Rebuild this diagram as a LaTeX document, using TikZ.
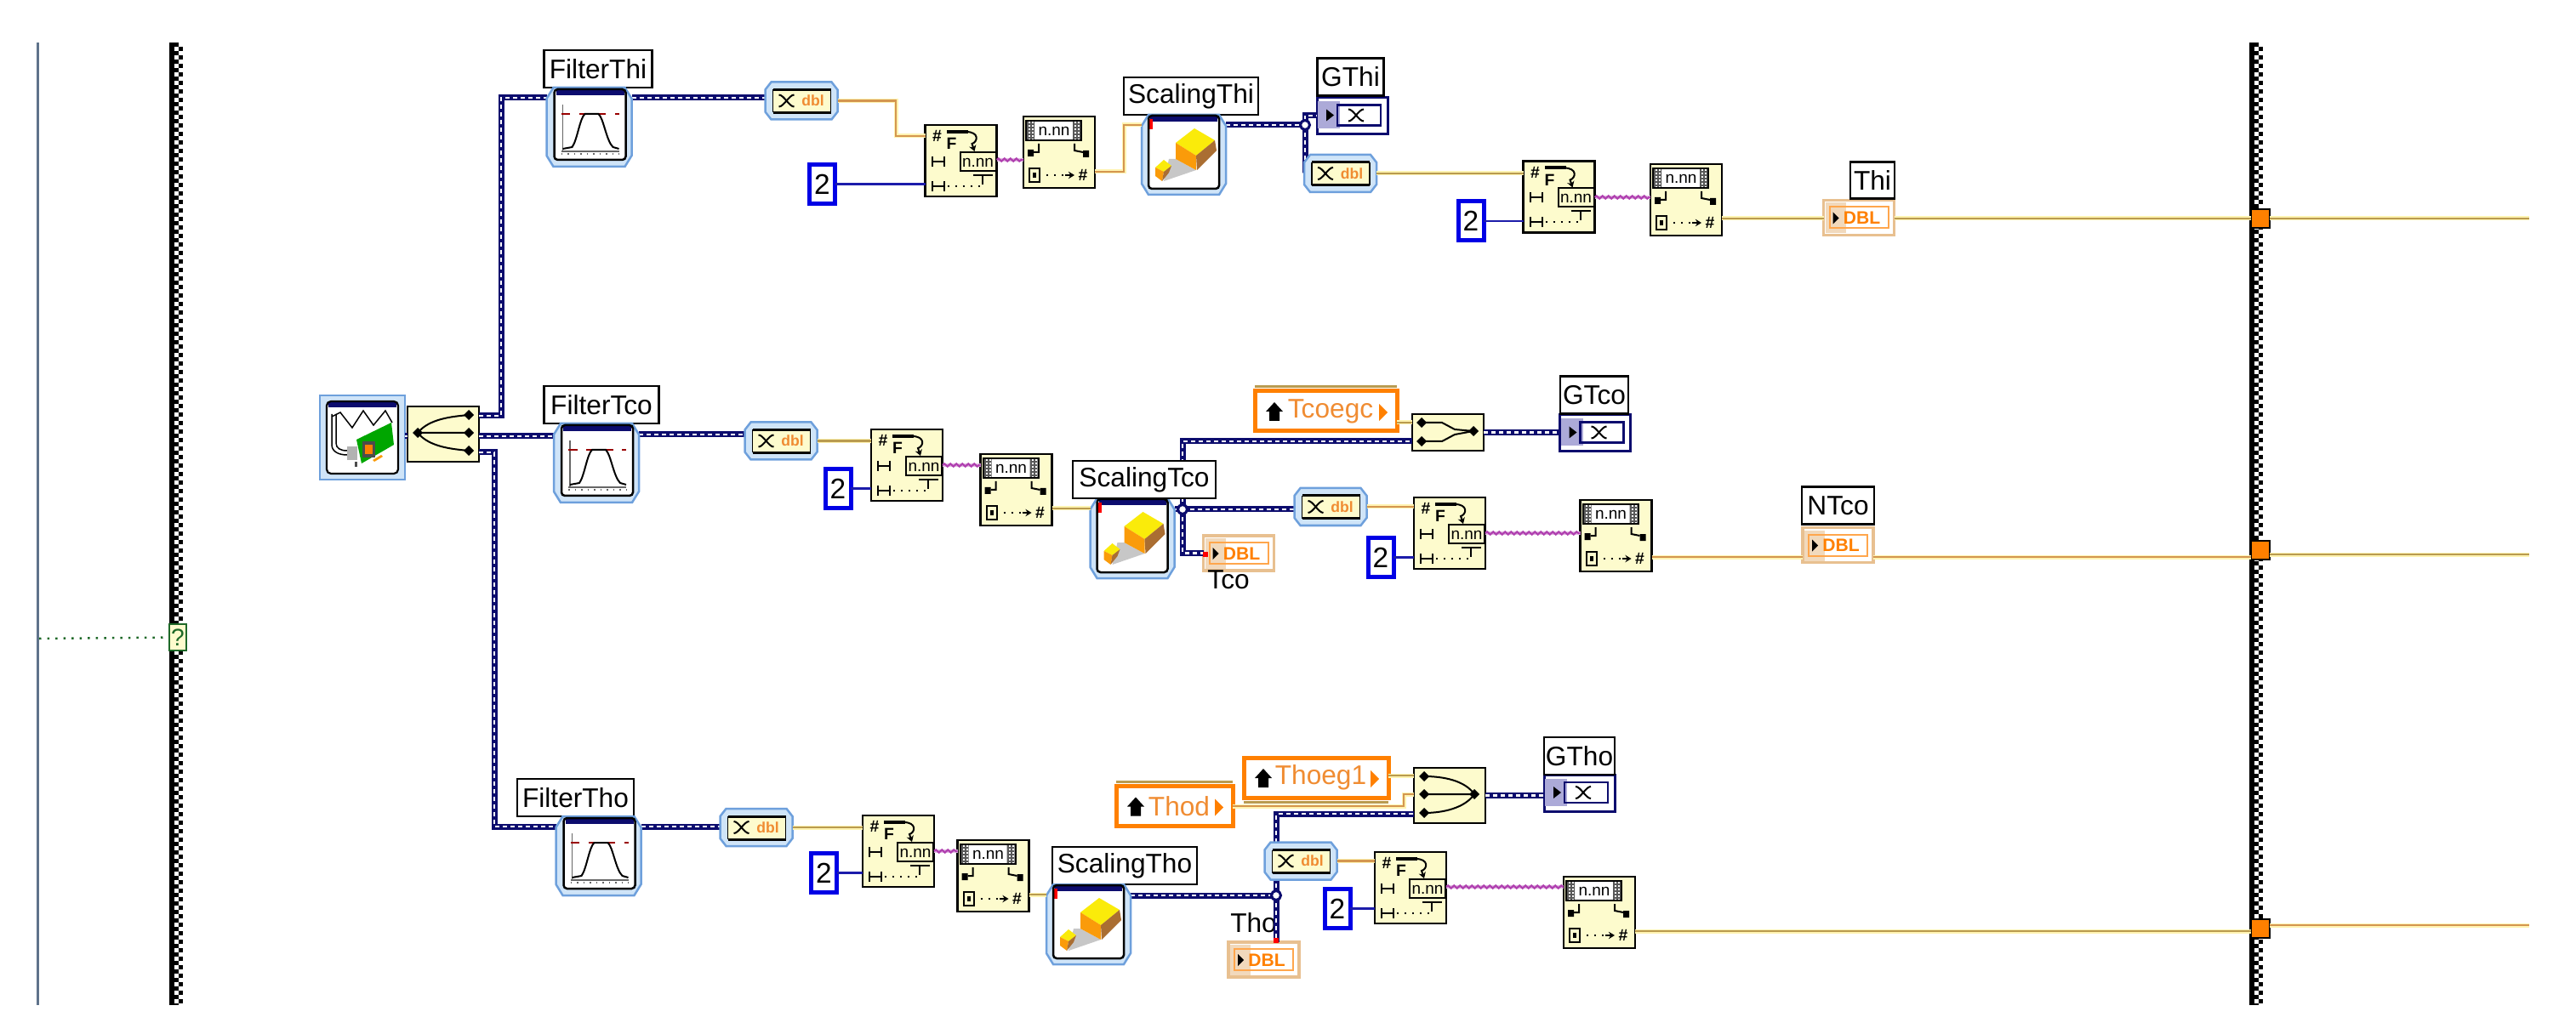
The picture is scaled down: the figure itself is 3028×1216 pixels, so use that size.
\documentclass[tikz,border=0pt]{standalone}
\usepackage{fontspec}
\setmainfont{Liberation Sans}
\usepackage{xcolor}
\usepackage{tikz}
\usetikzlibrary{arrows.meta,positioning,decorations.pathmorphing}
\definecolor{navy}{RGB}{12,12,110}
\definecolor{dblwire}{RGB}{185,155,80}
\definecolor{dblglow}{RGB}{255,243,176}
\definecolor{dblalt}{RGB}{212,150,80}
\definecolor{intwire}{RGB}{28,28,170}
\definecolor{strwire}{RGB}{176,64,176}
\definecolor{boolwire}{RGB}{30,105,40}
\definecolor{cream}{RGB}{253,251,205}
\definecolor{ice}{RGB}{207,228,248}
\definecolor{iceline}{RGB}{110,160,220}
\definecolor{lvorange}{RGB}{255,128,0}
\definecolor{lvtext}{RGB}{240,140,50}
\definecolor{lvtan}{RGB}{232,192,144}
\definecolor{purplepatch}{RGB}{172,170,216}
\definecolor{cubeY}{RGB}{250,235,10}
\definecolor{cubeO}{RGB}{250,155,10}
\definecolor{cubeB}{RGB}{170,110,50}
\newcommand{\pxl}{0.01cm}
\newcommand{\vdot}[2]{\fill[black] (#1-6,#2) -- (#1,#2-6) -- (#1+6,#2) -- (#1,#2+6) -- cycle;}
% glyphs drawn over the blocks, local pixels from the top left corner
\newcommand{\octframe}[4]{
  \draw[draw=iceline, fill=ice, line width=2.5*\pxl] (#3,0) -- (#1-#3,0) -- (#1,#4) -- (#1,#2-#4) -- (#1-#3,#2) -- (#3,#2) -- (0,#2-#4) -- (0,#4) -- cycle;}
\newcommand{\crossglyph}[2]{
  \draw[black,line width=2*\pxl] (#1-9,#2-7) .. controls (#1-3,#2-7) and (#1+3,#2+7) .. (#1+9,#2+7);
  \draw[black,line width=2*\pxl] (#1-9,#2+7) .. controls (#1-3,#2+7) and (#1+3,#2-7) .. (#1+9,#2-7);}
\newcommand{\loopglyph}{
  \node[glyph] at (14,13) {\#};
  \fill[black] (25,6) rectangle (50,10);
  \node[glyph] at (31,22) {F};
  \draw[black,line width=2*\pxl,-{Stealth[length=2pt,width=2.4pt]}] (48,8) .. controls (64,8) and (62,20) .. (55,22) -- (58,31);
  \draw[black,line width=2*\pxl,fill=cream] (41,32) rectangle (83,54);
  \node[nnglyph] at (62,44) {n.nn};
  \draw[black,line width=2*\pxl] (8,37) -- (8,49) (22,37) -- (22,49) (8,43) -- (22,43);
  \draw[black,line width=2*\pxl] (8,66) -- (8,78) (22,66) -- (22,78) (8,72) -- (22,72);
  \draw[black,line width=2*\pxl,dotted] (26,72) -- (64,72);
  \draw[black,line width=2*\pxl] (56,59) -- (79,59) (67,59) -- (67,70);}
\newcommand{\formatglyph}{
  \draw[black,line width=2*\pxl,fill=white] (3,5) rectangle (68,28);
  \fill[black!65] (4,6) rectangle (13,27) (58,6) rectangle (67,27);
  \draw[white,line width=2*\pxl,dash pattern=on 2*\pxl off 2*\pxl] (7,6) -- (7,27) (11,6) -- (11,27) (61,6) -- (61,27) (65,6) -- (65,27);
  \node[nnglyph] at (36,17) {n.nn};
  \fill[black] (5,39) rectangle (12,47) (70,40) rectangle (77,48);
  \draw[black,line width=2*\pxl] (12,42) -- (18,42) -- (18,32) (60,32) -- (60,40) -- (70,42);
  \draw[black,line width=2*\pxl] (7,61) rectangle (19,77);
  \fill[black] (11,66) rectangle (15,72);
  \draw[black,line width=2*\pxl,dotted] (27,69) -- (50,69);
  \draw[black,line width=2*\pxl,-{Stealth[length=2pt,width=2.4pt]}] (49,69) -- (60,69);
  \node[glyph] at (70,69) {\#};}
\newcommand{\filterglyph}{
  \octframe{100}{93}{8}{13}
  \fill[white,rounded corners=4*\pxl] (9,2) rectangle (93,85);
  \fill[navy] (11,2) rectangle (91,9);
  \draw[black,line width=2.5*\pxl,rounded corners=4*\pxl] (9,2) rectangle (93,85);
  \draw[black!60,line width=1.5*\pxl] (19,20) -- (19,75) (17,75) -- (85,75);
  \draw[black!60,line width=1.5*\pxl,dash pattern=on 1.5*\pxl off 6*\pxl] (17,78) -- (85,78);
  \draw[red!60!black,line width=2*\pxl,dashed] (17,31) -- (85,31);
  \draw[black,line width=2*\pxl] (19,72) -- (30,70) .. controls (36,62) and (39,36) .. (45,31) -- (61,31) .. controls (67,36) and (70,62) .. (78,70) -- (85,72);}
\newcommand{\scaleglyph}{
  \octframe{99}{94}{8}{13}
  \fill[white,rounded corners=4*\pxl] (8,1) rectangle (91,87);
  \fill[navy] (10,1) rectangle (89,8);
  \fill[red] (8,5) rectangle (13,17);
  \draw[black,line width=2.5*\pxl,rounded corners=4*\pxl] (8,1) rectangle (91,87);
  \fill[black!22] (32,52) -- (40,52) -- (64,65) -- (26,78) -- cycle;
  \fill[cubeY] (62,16) -- (86,30) -- (64,48) -- (40,33) -- cycle;
  \fill[cubeO] (40,33) -- (64,48) -- (64,65) -- (40,52) -- cycle;
  \fill[cubeB] (64,48) -- (86,30) -- (88,42) -- (65,65) -- cycle;
  \fill[cubeY] (26,53) -- (35,60) -- (26,67) -- (16,62) -- cycle;
  \fill[cubeO] (16,62) -- (26,67) -- (24,78) -- (16,72) -- cycle;
  \fill[cubeB] (26,67) -- (35,60) -- (32,68) -- (24,78) -- cycle;}
\newcommand{\daqglyph}{
  \fill[white,rounded corners=5*\pxl] (8,7) rectangle (92,92);
  \fill[navy] (10,7) rectangle (90,14);
  \draw[black,line width=2.2*\pxl,rounded corners=5*\pxl] (8,7) rectangle (92,92);
  \draw[black,line width=1.5*\pxl] (14,25) -- (24,20) -- (38,38) -- (51,18) -- (63,35) -- (77,18) -- (85,32);
  \draw[black,line width=1.5*\pxl] (14,22) -- (14,58) .. controls (14,66) and (22,70) .. (32,70);
  \draw[black,line width=1.5*\pxl] (19,22) -- (19,56) .. controls (19,62) and (24,65) .. (32,65);
  \fill[black!30] (32,60) rectangle (44,76);
  \fill[black!70] (41,78) rectangle (44,84);
  \fill[green!65!black] (43,52) -- (84,32) -- (87,58) -- (49,80) -- cycle;
  \fill[black!70] (50,54) rectangle (65,73);
  \fill[orange] (53,58) rectangle (62,69);
  \fill[cubeO] (62,76) -- (72,70) -- (74,72) -- (64,78) -- cycle;}
\newcommand{\splitglyph}{
  \vdot{12}{31}\vdot{72}{10}\vdot{72}{31}\vdot{72}{52}
  \draw[black,line width=2*\pxl] (12,31) .. controls (25,15) and (50,12) .. (72,10) (12,31) -- (72,31) (12,31) .. controls (25,47) and (50,50) .. (72,52);}
\newcommand{\mergetwo}{
  \vdot{11}{10}\vdot{11}{32}\vdot{72}{20}
  \draw[black,line width=2*\pxl] (11,10) -- (35,10) -- (50,18) -- (72,20) (11,32) -- (35,32) -- (50,24) -- (72,20);}
\newcommand{\mergethree}{
  \vdot{12}{10}\vdot{12}{31}\vdot{12}{53}\vdot{71}{31}
  \draw[black,line width=2*\pxl] (12,10) .. controls (35,10) and (60,15) .. (71,31) (12,31) -- (71,31) (12,53) .. controls (35,53) and (60,47) .. (71,31);}
\newcommand{\convglyph}{
  \octframe{85}{44}{7}{9}
  \fill[cream] (9,9) rectangle (77,36);
  \draw[black,line width=3*\pxl] (9,9) -- (77,9) (9,36) -- (77,36);
  \draw[black,line width=1.5*\pxl] (9,9) -- (9,36) (77,9) -- (77,36);
  \crossglyph{25}{22}
  \node[glyph,font=\fontsize{5}{5}\selectfont\bfseries,text=lvtext] at (56,22) {dbl};}
\newcommand{\graphglyph}{
  \fill[purplepatch] (1,5) rectangle (27,37);
  \draw[navy,line width=2.5*\pxl] (24,9) rectangle (75,33);
  \fill[black] (11,14) -- (20,21) -- (11,28) -- cycle;
  \crossglyph{46}{21}}
\newcommand{\dblglyph}{
  \fill[lvtan!60] (2,3) rectangle (26,39);
  \draw[lvorange!70,line width=2*\pxl] (7,8) rectangle (76,33);
  \fill[black] (11,14) -- (18,21) -- (11,28) -- cycle;
  \node[glyph,font=\fontsize{6}{6}\selectfont\bfseries,text=lvorange] at (45,21) {DBL};}
\newcommand{\houseglyph}{
  \fill[black] (13,24) -- (23,13) -- (33,24) -- (29,24) -- (29,35) -- (17,35) -- (17,24) -- cycle;}

\begin{document}
\begin{tikzpicture}[x=0.01cm, y=-0.01cm,
  every node/.style={inner sep=0pt, outer sep=0pt},
  glyph/.style={font=\fontsize{5.5}{6}\selectfont\bfseries, text=black, anchor=center},
  nnglyph/.style={font=\fontsize{5.4}{6}\selectfont, text=black, anchor=center},
  tag/.style={draw=black, fill=white, line width=2.5*\pxl, minimum height=44*\pxl, font=\fontsize{9}{10}\selectfont},
  plaintag/.style={font=\fontsize{9}{10}\selectfont},
  filterbox/.style={minimum width=100*\pxl, minimum height=93*\pxl},
  scalebox/.style={minimum width=99*\pxl, minimum height=94*\pxl},
  convbox/.style={minimum width=85*\pxl, minimum height=44*\pxl},
  loopbox/.style={draw=black, fill=cream, line width=2.5*\pxl, minimum size=84*\pxl},
  splitbox/.style={draw=black, fill=cream, line width=2.5*\pxl, minimum width=84*\pxl, minimum height=65*\pxl},
  mergetwobox/.style={draw=black, fill=cream, line width=2.5*\pxl, minimum width=84*\pxl, minimum height=43*\pxl},
  daqbox/.style={draw=iceline, fill=ice, line width=2.5*\pxl, minimum width=100*\pxl, minimum height=99*\pxl},
  constbox/.style={draw=blue!90!black, fill=white, line width=5*\pxl, minimum width=30*\pxl, minimum height=46*\pxl, font=\fontsize{9.5}{10}\selectfont},
  graphterm/.style={draw=navy, fill=white, line width=3*\pxl, minimum width=83*\pxl, minimum height=43*\pxl},
  dblterm/.style={draw=lvtan, fill=white, line width=3.5*\pxl, minimum width=83*\pxl, minimum height=41*\pxl},
  localvar/.style={draw=lvorange, fill=white, line width=5*\pxl, minimum height=47*\pxl, text=lvtext, font=\fontsize{9}{10}\selectfont},
  tunnel/.style={draw=black, fill=lvorange, line width=2.5*\pxl, minimum size=22*\pxl},
  selterm/.style={draw=boolwire, fill=cream, line width=2.5*\pxl, minimum width=20*\pxl, minimum height=31*\pxl, text=boolwire, font=\fontsize{8}{8}\selectfont},
  coerce/.style={fill=red, minimum size=6*\pxl},
  junction/.style={shape=circle, draw=navy, fill=white, line width=3*\pxl, minimum size=11*\pxl},
  wave/.style={draw=navy, line width=7*\pxl, postaction={draw=white, line width=2.5*\pxl, dash pattern=on 5*\pxl off 4*\pxl}},
  dbl/.style={draw=dblwire, line width=2.5*\pxl, preaction={draw=dblglow, line width=5*\pxl}},
  dblo/.style={draw=dblalt, line width=2.5*\pxl, preaction={draw=dblglow, line width=5*\pxl}},
  int/.style={draw=intwire, line width=2.5*\pxl},
  str/.style={draw=strwire, line width=2.2*\pxl, decorate, decoration={snake, amplitude=1.6*\pxl, segment length=7*\pxl}},
  framecol/.style={line width=5*\pxl, draw=black, dash pattern=on 5*\pxl off 5*\pxl}
]
  \useasboundingbox (0,0) rectangle (3028,1216);

  % loop frame
  \coordinate (ltop) at (44,50);
  \coordinate (lbot) at (44,1182);
  \coordinate (ftl) at (199,50);
  \coordinate (fbl) at (199,1182);
  \coordinate (ftr) at (2644,50);
  \coordinate (fbr) at (2644,1182);
  \coordinate (endA) at (2973,257);
  \coordinate (endB) at (2973,652);
  \coordinate (endC) at (2973,1088);
  \coordinate (startQ) at (46,751);
  \draw[draw=iceline!50!black!80, line width=3*\pxl] (ltop) -- (lbot);
  \foreach \fr/\frb in {ftl/fbl,ftr/fbr} {
    \draw[draw=black, line width=6*\pxl] ([xshift=3*\pxl]\fr) -- ([xshift=3*\pxl]\frb);
    \draw[framecol] ([xshift=8.5*\pxl]\fr) -- ([xshift=8.5*\pxl]\frb);
    \draw[framecol, dash phase=5*\pxl] ([xshift=13.5*\pxl]\fr) -- ([xshift=13.5*\pxl]\frb);
  }
  \node[selterm] (sel) at (209,749.5) {?};
  \draw[draw=boolwire, line width=2.5*\pxl, dotted] (startQ) -- (sel);

  % acquisition and split
  \node[daqbox] (daq) at (426,514.5) {};
  \node[splitbox] (split) at (521,510.5) {};
  \node[filterbox] (fltThi) at (692.5,149.5) {};
  \node[tag, minimum width=127*\pxl, above=0pt of fltThi, xshift=10.5*\pxl] (lblFThi) {FilterThi};
  \node[filterbox] (fltTco) at (701,544.5) {};
  \node[tag, minimum width=135*\pxl, above=0pt of fltTco, xshift=6*\pxl] (lblFTco) {FilterTco};
  \node[filterbox] (fltTho) at (703.5,1006.5) {};
  \node[tag, minimum width=137*\pxl, above=0pt of fltTho, xshift=-27*\pxl] (lblFTho) {FilterTho};

  % first row
  \node[convbox] (cvThiA) at (942,118.5) {};
  \node[loopbox] (lpThiA) at (1129.5,189) {};
  \node[constbox] (cnThiA) at (966.5,216.5) {2};
  \node[loopbox] (fmThiA) at (1245,179) {};
  \node[scalebox] (scThi) at (1391.5,182) {};
  \node[tag, minimum width=158*\pxl, above=0pt of scThi, xshift=8.5*\pxl] (lblSThi) {ScalingThi};
  \node[graphterm] (gtThi) at (1589.5,136) {};
  \node[tag, minimum width=78*\pxl, above=2*\pxl of gtThi, xshift=-2*\pxl] (lblGThi) {GThi};
  \node[convbox] (cvThiB) at (1575.5,204) {};
  \node[loopbox] (lpThiB) at (1832.5,231.5) {};
  \node[constbox] (cnThiB) at (1729,260) {2};
  \node[loopbox] (fmThiB) at (1982,235) {};
  \node[dblterm] (dbThi) at (2185,256) {};
  \node[tag, minimum width=52*\pxl, minimum height=43*\pxl, above=2*\pxl of dbThi, xshift=16*\pxl] (lblThi) {Thi};
  \node[tunnel] (tnThi) at (2657,257) {};

  % second row
  \node[convbox] (cvTcoA) at (918,518.5) {};
  \node[loopbox] (lpTcoA) at (1066,547) {};
  \node[constbox] (cnTcoA) at (985,574.5) {2};
  \node[loopbox] (fmTcoA) at (1194.5,576) {};
  \node[scalebox] (scTco) at (1331,633) {};
  \node[dblterm] (dbTco) at (1456,650.5) {};
  \node[plaintag, below=0pt of dbTco, xshift=-12*\pxl] (lblTco) {Tco};
  \node[localvar, minimum width=167*\pxl] (lvTco) at (1558.5,483.5) {\hspace{1.1mm}Tcoegc};
  \node[mergetwobox] (bdTco) at (1702,508.5) {};
  \node[graphterm] (gtTco) at (1875,509) {};
  \node[tag, minimum width=80*\pxl, above=1*\pxl of gtTco, xshift=-1*\pxl] (lblGTco) {GTco};
  \node[convbox] (cvTcoB) at (1564,596) {};
  \node[loopbox] (lpTcoB) at (1704,627) {};
  \node[constbox] (cnTcoB) at (1623,655.5) {2};
  \node[loopbox] (fmTcoB) at (1899.5,630) {};
  \node[dblterm] (dbNTco) at (2160.5,641) {};
  \node[tag, minimum width=85*\pxl, above=4*\pxl of dbNTco] (lblNTco) {NTco};
  \node[tunnel] (tnTco) at (2657,647) {};

  % third row
  \node[convbox] (cvThoA) at (889,973) {};
  \node[loopbox] (lpThoA) at (1056,1001) {};
  \node[constbox] (cnThoA) at (968.5,1026.5) {2};
  \node[loopbox] (fmThoA) at (1167.5,1030) {};
  \node[scalebox] (scTho) at (1279.5,1087) {};
  \node[tag, minimum width=170*\pxl, above=0pt of scTho, xshift=42.5*\pxl] (lblSTho) {ScalingTho};
  \node[localvar, minimum width=137*\pxl] (lvThod) at (1380.5,948) {\hspace{1.1mm}Thod};
  \node[localvar, minimum width=170*\pxl] (lvThoeg) at (1547,914.5) {\hspace{1.1mm}Thoeg1};
  \node[splitbox] (bdTho) at (1704,935.5) {};
  \node[graphterm] (gtTho) at (1856.5,932.5) {};
  \node[tag, minimum width=83*\pxl, above=0pt of gtTho] (lblGTho) {GTho};
  \node[convbox] (cvThoB) at (1529,1012.5) {};
  \node[loopbox] (lpThoB) at (1658,1044) {};
  \node[constbox] (cnThoB) at (1572,1068.5) {2};
  \node[loopbox] (fmThoB) at (1880,1073) {};
  \node[dblterm] (dbTho) at (1485.5,1128.5) {};
  \node[plaintag, above=11*\pxl of dbTho, xshift=-12*\pxl] (lblTho) {Tho};
  \node[tunnel] (tnTho) at (2657,1092) {};

  % waveform wires
  \coordinate (jnThi) at (1534,147);
  \coordinate (jnTco) at (1390,599);
  \coordinate (jnTho) at (1500,1053);
  \draw[wave] (split.east |- 0,489) -| (589,115) -- (fltThi.west |- 0,115);
  \draw[wave] (split.east |- 0,513) -- (fltTco.west |- 0,513);
  \draw[wave] (split.east |- 0,532) -| (581,972) -- (fltTho.west |- 0,972);
  \draw[wave] (daq.east |- 0,513) -- (split.west |- 0,513);
  \draw[wave] (fltThi.east |- 0,115) -- (cvThiA.west |- 0,115);
  \draw[wave] (fltTco.east |- 0,511) -- (cvTcoA.west |- 0,511);
  \draw[wave] (fltTho.east |- 0,972) -- (cvThoA.west |- 0,972);
  \draw[wave] (scThi.east |- jnThi) -- (jnThi) |- (gtThi.west);
  \draw[wave] (jnThi) |- (cvThiB.west);
  \draw[wave] (scTco.east |- jnTco) -- (cvTcoB.west |- jnTco);
  \draw[wave] (jnTco) |- (bdTco.west |- 0,519);
  \draw[wave] (jnTco) |- (dbTco.west);
  \draw[wave] (bdTco.east) -- (gtTco.west |- bdTco.east);
  \draw[wave] (scTho.east |- jnTho) -- (jnTho);
  \draw[wave] (jnTho) -- (cvThoB.south -| jnTho);
  \draw[wave] (cvThoB.north -| jnTho) |- (bdTho.west |- 0,957);
  \draw[wave] (jnTho) -- (dbTho.north -| jnTho);
  \draw[wave] (bdTho.east) -- (gtTho.west |- bdTho.east);
  \foreach \jn in {jnThi,jnTco,jnTho}
    \node[junction] (dot\jn) at (\jn) {};

  % glyphs on the blocks
  \foreach \nm in {lpThiA,lpThiB,lpTcoA,lpTcoB,lpThoA,lpThoB}
    \begin{scope}[shift={(\nm.north west)}] \loopglyph \end{scope};
  \foreach \nm in {fmThiA,fmThiB,fmTcoA,fmTcoB,fmThoA,fmThoB}
    \begin{scope}[shift={(\nm.north west)}] \formatglyph \end{scope};
  \foreach \nm in {cvThiA,cvThiB,cvTcoA,cvTcoB,cvThoA,cvThoB}
    \begin{scope}[shift={(\nm.north west)}] \convglyph \end{scope};
  \foreach \nm in {fltThi,fltTco,fltTho}
    \begin{scope}[shift={(\nm.north west)}] \filterglyph \end{scope};
  \foreach \nm in {scThi,scTco,scTho}
    \begin{scope}[shift={(\nm.north west)}] \scaleglyph \end{scope};
  \foreach \nm in {gtThi,gtTco,gtTho}
    \begin{scope}[shift={(\nm.north west)}] \graphglyph \end{scope};
  \foreach \nm in {dbThi,dbTco,dbNTco,dbTho}
    \begin{scope}[shift={(\nm.north west)}] \dblglyph \end{scope};
  \foreach \nm in {lvTco,lvThod,lvThoeg} {
    \begin{scope}[shift={(\nm.north west)}] \houseglyph \end{scope}
    \fill[lvorange] ([xshift=-21*\pxl,yshift=-15*\pxl]\nm.north east) -- ([xshift=-11*\pxl,yshift=-25*\pxl]\nm.north east) -- ([xshift=-21*\pxl,yshift=-35*\pxl]\nm.north east) -- cycle;
  }
  \draw[draw=dblwire, line width=3*\pxl] ([yshift=5*\pxl]lvTco.north west) -- ([yshift=5*\pxl]lvTco.north east);
  \draw[draw=dblwire, line width=3*\pxl] ([yshift=5*\pxl]lvThod.north west) -- ([yshift=5*\pxl]lvThod.north east);
  \draw[draw=dblwire, line width=3*\pxl] ([yshift=-5*\pxl]lvThoeg.south west) -- ([yshift=-5*\pxl]lvThoeg.south east);
  \begin{scope}[shift={(daq.north west)}] \daqglyph \end{scope}
  \begin{scope}[shift={(split.north west)}] \splitglyph \end{scope}
  \begin{scope}[shift={(bdTco.north west)}] \mergetwo \end{scope}
  \begin{scope}[shift={(bdTho.north west)}] \mergethree \end{scope}
  \node[tag, minimum width=168*\pxl, above=0pt of scTco, xshift=14*\pxl] (lblSTco) {ScalingTco};

  % double wires
  \draw[dblo] (cvThiA.east) -| (1053,160) -- (lpThiA.west |- 0,160);
  \draw[dblo] (fmThiA.east |- 0,202) -| (1321,147) -- (scThi.west |- 0,147);
  \draw[dbl] (cvThiB.east) -- (lpThiB.west |- cvThiB.east);
  \draw[dbl] (fmThiB.east |- 0,257) -- (dbThi.west |- 0,257);
  \draw[dbl] (dbThi.east |- 0,257) -- (tnThi);
  \draw[dbl] (tnThi) -- (endA);
  \draw[dbl] (cvTcoA.east) -- (lpTcoA.west |- cvTcoA.east);
  \draw[dbl] (fmTcoA.east |- 0,598) -- (scTco.west |- 0,598);
  \draw[dbl] (lvTco.east |- 0,497) -- (bdTco.west |- 0,497);
  \draw[dblo] (cvTcoB.east) -- (lpTcoB.west |- cvTcoB.east);
  \draw[dblo] (fmTcoB.east |- 0,655) -- (dbNTco.west |- 0,655);
  \draw[dblo] (dbNTco.east |- 0,655) -- (tnTco.west |- 0,655);
  \draw[dbl] (tnTco.east |- 0,652) -- (endB);
  \draw[dbl] (cvThoA.east) -- (lpThoA.west |- cvThoA.east);
  \draw[dbl] (fmThoA.east |- 0,1052) -- (scTho.west |- 0,1052);
  \draw[dbl] (lvThoeg.east |- 0,912) -- (bdTho.west |- 0,912);
  \draw[dblo] (lvThod.east) -| (1650,934) -- (bdTho.west |- 0,934);
  \draw[dblo] (cvThoB.east) -- (lpThoB.west |- cvThoB.east);
  \draw[dbl] (fmThoB.east |- 0,1095) -- (tnTho.west |- 0,1095);
  \draw[dblo] (tnTho.east |- 0,1088) -- (endC);

  % integer wires
  \foreach \cn/\lp in {cnThiA/lpThiA,cnThiB/lpThiB,cnTcoA/lpTcoA,cnTcoB/lpTcoB,cnThoA/lpThoA,cnThoB/lpThoB}
    \draw[int] (\cn.east) -- (\lp.west |- \cn.east);

  % string wires
  \foreach \lp/\fm/\yy in {lpThiA/fmThiA/188,lpThiB/fmThiB/232,lpTcoA/fmTcoA/547,lpTcoB/fmTcoB/627,lpThoA/fmThoA/1001,lpThoB/fmThoB/1043} {
    \draw[strwire!35, line width=4*\pxl] (\lp.east |- 0,\yy) -- (\fm.west |- 0,\yy);
    \draw[str] (\lp.east |- 0,\yy) -- (\fm.west |- 0,\yy);
  }

  \node[coerce] (cpTco) at (1417,652) {};
  \node[coerce] (cpTho) at (1500,1106) {};
\end{tikzpicture}
\end{document}
